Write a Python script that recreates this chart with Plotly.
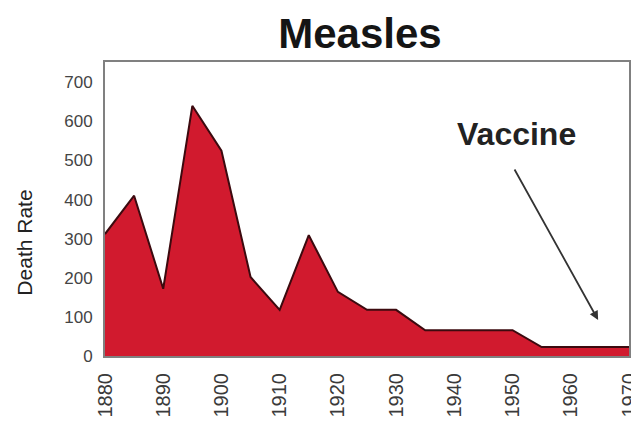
import plotly.graph_objects as go

years = [1880, 1885, 1890, 1895, 1900, 1905, 1910, 1915, 1920, 1925, 1930,
         1935, 1940, 1945, 1950, 1955, 1960, 1965, 1970]
death_rate = [312, 410, 172, 640, 525, 202, 118, 309, 164, 118, 118,
              66, 66, 66, 66, 23, 23, 23, 23]
x_ticks = [1880, 1890, 1900, 1910, 1920, 1930, 1940, 1950, 1960, 1970]
y_ticks = [0, 100, 200, 300, 400, 500, 600, 700]

FONT = "Liberation Sans, Arial, sans-serif"

fig = go.Figure()
fig.add_trace(go.Scatter(
    x=years, y=death_rate, mode="lines", fill="tozeroy",
    fillcolor="#d11a2e", line=dict(color="#3c0a0f", width=2),
    hoverinfo="skip", showlegend=False,
))

# the page body adds an 8px offset; the figure is sized to end at the window edge
W, H = 631, 418
fig.update_layout(
    width=W, height=H,
    margin=dict(l=97, r=10, t=54, b=70),
    paper_bgcolor="white", plot_bgcolor="white",
    title=dict(text="<b>Measles</b>", x=352 / W, xanchor="center", y=1 - 25 / H,
               yanchor="middle", automargin=False,
               font=dict(family=FONT, size=42, color="#151515")),
    font=dict(family=FONT, color="#333"),
    xaxis=dict(range=[1880, 1970], tickvals=x_ticks, ticktext=[str(v) for v in x_ticks],
               tickangle=-90, tickfont=dict(size=20, color="#3a3a3a"),
               ticklabelstandoff=7, ticklabeloverflow="allow", automargin=False,
               showgrid=False, zeroline=False, showline=True, mirror=True,
               linecolor="#808080", linewidth=2, ticks=""),
    yaxis=dict(range=[0, 752], tickvals=y_ticks, tickfont=dict(size=17, color="#444"),
               ticklabelstandoff=7, automargin=False,
               showgrid=False, zeroline=False, showline=True, mirror=True,
               linecolor="#808080", linewidth=2, ticks=""),
    annotations=[
        dict(x=-0.153, y=0.385, xref="paper", yref="paper", text="Death Rate",
             textangle=-90, showarrow=False, xanchor="center", yanchor="middle",
             font=dict(size=21, color="#222", family=FONT)),
        dict(x=1950.7, y=568, text="<b>Vaccine</b>", showarrow=False,
             xanchor="center", yanchor="middle",
             font=dict(size=32, color="#222", family=FONT)),
        dict(x=1964.7, y=92, ax=1950.2, ay=481, axref="x", ayref="y",
             xref="x", yref="y", text="", showarrow=True,
             arrowhead=2, arrowsize=1, arrowwidth=1.8, arrowcolor="#333"),
    ],
)

fig.write_html("out.html", config={"displayModeBar": False})
